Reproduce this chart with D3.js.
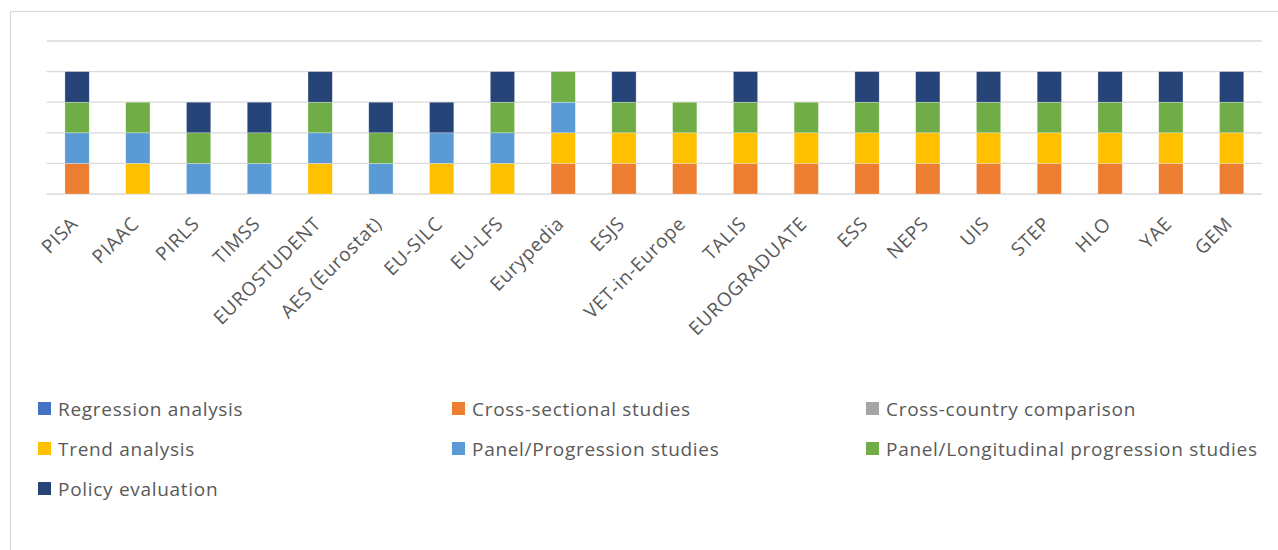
<!DOCTYPE html>
<html>
<head>
<meta charset="utf-8">
<script src="https://cdn.jsdelivr.net/npm/d3@7"></script>
<style>
  html, body { margin: 0; padding: 0; background: #ffffff; }
  svg { display: block; }
  text { font-family: "Open Sans", "Noto Sans", sans-serif; fill: #595959; }
</style>
</head>
<body>
<svg id="chart" width="1278" height="550"></svg>
<script>
const categories = ["PISA", "PIAAC", "PIRLS", "TIMSS", "EUROSTUDENT", "AES (Eurostat)", "EU-SILC", "EU-LFS",
  "Eurypedia", "ESJS", "VET-in-Europe", "TALIS", "EUROGRADUATE", "ESS", "NEPS", "UIS", "STEP", "HLO", "YAE", "GEM"];

const seriesNames = ["Regression analysis", "Cross-sectional studies", "Cross-country comparison",
  "Trend analysis", "Panel/Progression studies", "Panel/Longitudinal progression studies", "Policy evaluation"];

const regressionAnalysis    = [0,0,0,0,0,0,0,0,0,0,0,0,0,0,0,0,0,0,0,0];
const crossSectional        = [1,0,0,0,0,0,0,0,1,1,1,1,1,1,1,1,1,1,1,1];
const crossCountry          = [0,0,0,0,0,0,0,0,0,0,0,0,0,0,0,0,0,0,0,0];
const trendAnalysis         = [0,1,0,0,1,0,1,1,1,1,1,1,1,1,1,1,1,1,1,1];
const panelProgression      = [1,1,1,1,1,1,1,1,1,0,0,0,0,0,0,0,0,0,0,0];
const panelLongitudinal     = [1,1,1,1,1,1,0,1,1,1,1,1,1,1,1,1,1,1,1,1];
const policyEvaluation      = [1,0,1,1,1,1,1,1,0,1,0,1,0,1,1,1,1,1,1,1];

const yTicks = [0, 1, 2, 3, 4, 5];

const seriesValues = [regressionAnalysis, crossSectional, crossCountry, trendAnalysis,
  panelProgression, panelLongitudinal, policyEvaluation];
const colors = ["#4472C4", "#ED7D31", "#A5A5A5", "#FFC000", "#5B9BD5", "#70AD47", "#264478"];

// build table for stacking
const table = categories.map((c, i) => {
  const row = { category: c };
  seriesNames.forEach((s, k) => { row[s] = seriesValues[k][i]; });
  return row;
});

const svg = d3.select("#chart");

// outer chart border
svg.append("rect")
  .attr("x", 10.5).attr("y", 11.5)
  .attr("width", 1300).attr("height", 700)
  .attr("fill", "none").attr("stroke", "#d9d9d9").attr("stroke-width", 1.2);

const plot = { left: 46.7, right: 1262, top: 41, bottom: 194 };

const x = d3.scaleBand()
  .domain(categories)
  .range([plot.left, plot.right])
  .paddingInner(0.6)
  .paddingOuter(0.3);

const y = d3.scaleLinear()
  .domain([0, 5])
  .range([plot.bottom, plot.top]);

// gridlines
svg.append("g")
  .selectAll("line")
  .data(yTicks)
  .join("line")
  .attr("x1", plot.left).attr("x2", plot.right)
  .attr("y1", d => y(d)).attr("y2", d => y(d))
  .attr("stroke", "#d9d9d9").attr("stroke-width", 1.3);

// stacked bars
const stack = d3.stack().keys(seriesNames);
const stacked = stack(table);

svg.append("g")
  .selectAll("g")
  .data(stacked)
  .join("g")
  .attr("fill", (d, k) => colors[k])
  .selectAll("rect")
  .data(d => d.filter(s => s[1] - s[0] > 0))
  .join("rect")
  .attr("x", d => x(d.data.category))
  .attr("width", x.bandwidth())
  .attr("y", d => y(d[1]))
  .attr("height", d => y(d[0]) - y(d[1]))
  .attr("stroke", "#ffffff")
  .attr("stroke-opacity", 0.5)
  .attr("stroke-width", 0.6);

// x axis labels (rotated)
const xAxis = d3.axisBottom(x).tickSize(0).tickPadding(0);
const axisG = svg.append("g")
  .attr("transform", `translate(0, ${plot.bottom})`)
  .call(xAxis);
axisG.select(".domain").remove();
axisG.selectAll(".tick text")
  .attr("font-family", "'Open Sans', sans-serif")
  .attr("font-size", 19)
  .attr("letter-spacing", "0.7px")
  .attr("fill", "#595959")
  .attr("text-anchor", "end")
  .attr("dy", 0)
  .attr("y", 0)
  .attr("transform", "translate(2, 31) rotate(-45)");

// legend
const legendCols = [38, 452, 866];
const legendRows = [402, 442, 482];
const legend = svg.append("g");
seriesNames.forEach((name, k) => {
  const col = k % 3, row = Math.floor(k / 3);
  const g = legend.append("g")
    .attr("transform", `translate(${legendCols[col]}, ${legendRows[row]})`);
  g.append("rect")
    .attr("x", 0).attr("y", 0)
    .attr("width", 13).attr("height", 13)
    .attr("fill", colors[k]);
  g.append("text")
    .attr("x", 20).attr("y", 13.5)
    .attr("font-size", 19)
    .attr("letter-spacing", "0.7px")
    .text(name);
});
</script>
</body>
</html>
